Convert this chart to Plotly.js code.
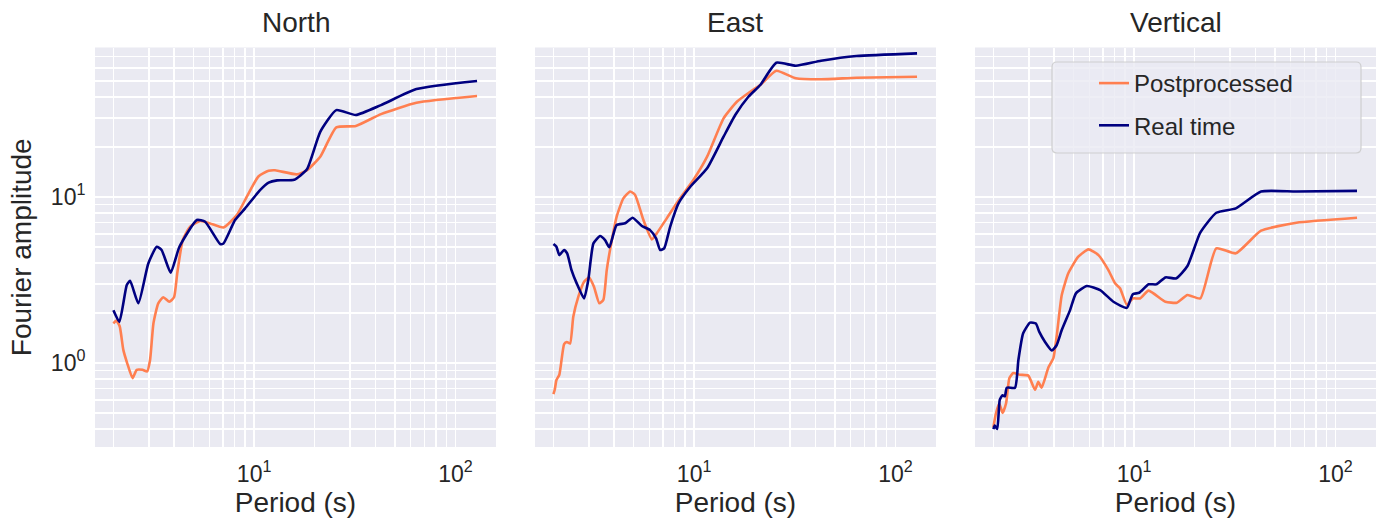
<!DOCTYPE html>
<html>
<head>
<meta charset="utf-8">
<script src="https://cdn.plot.ly/plotly-3.0.1.min.js"></script>
<style>html,body{margin:0;padding:0;background:#fff;}#chart{width:1383px;height:524px;}</style>
</head>
<body>
<div id="chart"></div>
<script>
// ---- data ----
const panelTitles = ["North", "East", "Vertical"];
const seriesNames = ["Postprocessed", "Real time"];

const northPostX = [2.0, 2.07, 2.15, 2.24, 2.34, 2.49, 2.61, 2.79, 2.94, 3.04, 3.16, 3.34, 3.54, 3.79, 4.0, 4.15, 4.42, 4.81, 5.39, 6.04, 7.04, 8.2, 9.2, 10.5, 11.8, 12.7, 16.3, 18.3, 21.3, 25.6, 32, 42.7, 64, 128];
const northPostY = [1.73, 1.80, 1.66, 1.20, 1.0, 0.81, 0.91, 0.91, 0.89, 1.04, 1.73, 2.29, 2.49, 2.34, 2.49, 3.47, 5.51, 6.62, 7.17, 6.94, 6.56, 7.79, 10.05, 13.3, 14.4, 14.5, 13.7, 14.5, 17.5, 26.3, 26.8, 31.6, 37.0, 40.6];
const northRealX = [2.0, 2.14, 2.33, 2.42, 2.66, 2.98, 3.28, 3.47, 3.85, 4.25, 5.19, 5.71, 6.78, 7.04, 8.04, 9.02, 10.7, 11.8, 13.0, 15.8, 18.3, 21.3, 25.6, 32.0, 42.7, 64.0, 128];
const northRealY = [2.08, 1.77, 2.95, 3.13, 2.29, 3.98, 5.02, 4.8, 3.5, 5.0, 7.27, 7.1, 5.21, 5.25, 7.27, 8.55, 11.0, 12.2, 12.6, 12.7, 14.7, 24.7, 33.4, 31.2, 35.8, 44.7, 50];

const eastPostX = [2.0, 2.03, 2.07, 2.14, 2.26, 2.33, 2.42, 2.51, 2.66, 2.84, 3.01, 3.18, 3.38, 3.54, 3.68, 3.90, 4.12, 4.45, 4.81, 5.09, 5.6, 6.17, 6.52, 7.31, 8.51, 9.93, 11.6, 14.0, 16.3, 19.0, 21.3, 25.6, 32, 42.7, 64, 128];
const eastPostY = [0.65, 0.69, 0.79, 0.85, 1.30, 1.34, 1.31, 1.90, 2.51, 3.09, 3.28, 2.88, 2.29, 2.4, 3.63, 5.5, 7.6, 9.82, 10.8, 10.3, 7.27, 5.56, 6.04, 7.44, 9.82, 12.7, 17.5, 29.8, 37.5, 43.1, 47.3, 57.7, 51.9, 51.2, 52.3, 53.1];
const eastRealX = [2.0, 2.07, 2.14, 2.26, 2.34, 2.46, 2.61, 2.84, 2.98, 3.16, 3.41, 3.61, 3.79, 4.12, 4.54, 4.95, 5.5, 6.04, 6.47, 6.78, 7.1, 7.6, 8.36, 9.55, 11.6, 14.0, 16.0, 18.6, 21.3, 25.6, 32, 42.7, 64, 128];
const eastRealY = [5.21, 5.02, 4.47, 4.8, 4.58, 3.63, 3.02, 2.45, 3.16, 5.26, 5.82, 5.5, 4.98, 6.78, 6.95, 7.5, 6.69, 6.32, 5.64, 4.8, 4.91, 6.62, 9.16, 11.5, 14.9, 23.1, 31.2, 40.2, 47.3, 64.4, 61.8, 66.2, 70.7, 73.4];

const vertPostX = [2.0, 2.06, 2.14, 2.22, 2.31, 2.40, 2.51, 2.71, 2.98, 3.22, 3.34, 3.47, 3.75, 3.97, 4.12, 4.37, 4.71, 5.28, 5.93, 6.65, 7.45, 8.04, 8.51, 9.2, 9.85, 10.7, 11.8, 14.3, 16.3, 18.4, 21.3, 25.6, 32, 42.7, 64, 128];
const vertPostY = [0.41, 0.50, 0.57, 0.50, 0.57, 0.81, 0.87, 0.85, 0.84, 0.69, 0.77, 0.71, 0.94, 1.07, 1.44, 2.57, 3.47, 4.37, 4.84, 4.47, 3.63, 3.02, 2.82, 2.24, 2.45, 2.45, 2.73, 2.34, 2.31, 2.57, 2.45, 4.91, 4.58, 6.27, 7.0, 7.5];
const vertRealX = [2.0, 2.03, 2.09, 2.15, 2.22, 2.28, 2.33, 2.56, 2.66, 2.81, 3.04, 3.25, 3.38, 3.61, 3.9, 4.12, 4.37, 4.81, 5.14, 5.82, 6.78, 7.89, 9.2, 9.85, 10.6, 11.8, 12.9, 14.3, 16.2, 18.4, 21.3, 25.6, 32, 42.7, 64, 128];
const vertRealY = [0.40, 0.42, 0.40, 0.60, 0.64, 0.63, 0.71, 0.71, 1.04, 1.51, 1.75, 1.73, 1.54, 1.34, 1.19, 1.28, 1.58, 2.09, 2.63, 2.91, 2.75, 2.34, 2.15, 2.6, 2.65, 2.98, 2.98, 3.28, 3.24, 3.84, 6.1, 8.04, 8.55, 10.8, 10.8, 10.9];

// tick labels and grid positions
const xMajorVals = [10, 100];
const xMajorText = ["10<sup>1</sup>", "10<sup>2</sup>"];
const xMinorVals = [2, 3, 4, 5, 6, 7, 8, 9, 20, 30, 40, 50, 60, 70, 80, 90];
const yMajorVals = [1, 10];
const yMajorText = ["10<sup>0</sup>", "10<sup>1</sup>"];
const yMinorVals = [0.3, 0.4, 0.5, 0.6, 0.7, 0.8, 0.9, 2, 3, 4, 5, 6, 7, 8, 9, 20, 30, 40, 50, 60, 70, 80];

const xTitle = "Period (s)";
const yTitle = "Fourier amplitude";

// ---- styling ----
const W = 1383, H = 524;
const FONT = '"Liberation Sans", Arial, "DejaVu Sans", sans-serif';
const TXT = '#262626';
const cPost = '#FF7F50', cReal = '#000080';
const panelsPx = [[95, 496], [535, 936], [975, 1376]];
const plotTop = 47.5, plotBot = 447;

const panels = [
  [northPostX, northPostY, northRealX, northRealY],
  [eastPostX, eastPostY, eastRealX, eastRealY],
  [vertPostX, vertPostY, vertRealX, vertRealY]
];

const traces = [];
panels.forEach((p, i) => {
  const xa = i === 0 ? 'x' : 'x' + (i + 1);
  const ya = i === 0 ? 'y' : 'y' + (i + 1);
  traces.push({x: p[0], y: p[1], xaxis: xa, yaxis: ya, type: 'scatter', mode: 'lines',
    name: seriesNames[0], line: {color: cPost, width: 2.6, shape: 'spline', smoothing: 0.5}, showlegend: i === 2, legendgroup: 'a'});
  traces.push({x: p[2], y: p[3], xaxis: xa, yaxis: ya, type: 'scatter', mode: 'lines',
    name: seriesNames[1], line: {color: cReal, width: 2.6, shape: 'spline', smoothing: 0.5}, showlegend: i === 2, legendgroup: 'b'});
});

// legend frame (rounded box, like matplotlib's)
const bx0 = 1052, bx1 = 1361, by0 = 62, by1 = 153, rr = 5;
const framePath = `M${bx0 + rr},${by0} L${bx1 - rr},${by0} Q${bx1},${by0} ${bx1},${by0 + rr} L${bx1},${by1 - rr} Q${bx1},${by1} ${bx1 - rr},${by1} L${bx0 + rr},${by1} Q${bx0},${by1} ${bx0},${by1 - rr} L${bx0},${by0 + rr} Q${bx0},${by0} ${bx0 + rr},${by0} Z`;

const layout = {
  width: W, height: H,
  margin: {l: 0, r: 0, t: 0, b: 0},
  paper_bgcolor: '#ffffff',
  plot_bgcolor: '#EAEAF2',
  font: {family: FONT, color: TXT, size: 20},
  showlegend: true,
  legend: {
    x: 1094 / W, y: 1 - 61 / H, xanchor: 'left', yanchor: 'top',
    bgcolor: 'rgba(0,0,0,0)', borderwidth: 0,
    font: {family: FONT, size: 24, color: TXT},
    tracegroupgap: 8, traceorder: 'grouped'
  },
  shapes: [{
    type: 'path', xref: 'paper', yref: 'paper', layer: 'above',
    path: framePath.replace(/(-?\d+(?:\.\d+)?),(-?\d+(?:\.\d+)?)/g, (m, a, b) => `${(+a / W).toFixed(5)},${(1 - +b / H).toFixed(5)}`),
    fillcolor: 'rgba(234,234,242,0.8)', line: {color: 'rgba(204,204,204,0.9)', width: 1.2}
  }],
  annotations: [],
};

const yRange = [Math.log10(0.312), Math.log10(79.6)];
const xRange = [Math.log10(1.62), Math.log10(159)];

panelsPx.forEach((px, i) => {
  const sfx = i === 0 ? '' : String(i + 1);
  layout['xaxis' + sfx] = {
    type: 'log', domain: [px[0] / W, px[1] / W], range: xRange,
    anchor: 'y' + sfx,
    tickmode: 'array', tickvals: xMajorVals, ticktext: xMajorText,
    minor: {tickmode: 'array', tickvals: xMinorVals, showgrid: true, gridcolor: '#ffffff', gridwidth: 1.4, ticks: ''},
    showgrid: true, gridcolor: '#ffffff', gridwidth: 1.4,
    zeroline: false, showline: false,
    ticks: 'outside', ticklen: 6, tickcolor: 'rgba(0,0,0,0)',
    tickfont: {size: 23, color: TXT, family: FONT},
    title: {text: xTitle, font: {size: 28, color: TXT, family: FONT}, standoff: 3}
  };
  layout['yaxis' + sfx] = {
    type: 'log', domain: [1 - plotBot / H, 1 - plotTop / H], range: yRange,
    anchor: 'x' + sfx,
    tickmode: 'array', tickvals: yMajorVals, ticktext: yMajorText,
    minor: {tickmode: 'array', tickvals: yMinorVals, showgrid: true, gridcolor: '#ffffff', gridwidth: 1.4, ticks: ''},
    showticklabels: i === 0,
    showgrid: true, gridcolor: '#ffffff', gridwidth: 1.4,
    zeroline: false, showline: false,
    ticks: 'outside', ticklen: 4, tickcolor: 'rgba(0,0,0,0)',
    tickfont: {size: 23, color: TXT, family: FONT},
    title: i === 0 ? {text: yTitle, font: {size: 28, color: TXT, family: FONT}, standoff: 11} : {text: ''}
  };
  if (i > 0) layout['yaxis' + sfx].matches = 'y';
  layout.annotations.push({
    text: panelTitles[i], xref: 'paper', yref: 'paper',
    x: (px[0] + px[1]) / 2 / W, y: 1 - 23 / H, xanchor: 'center', yanchor: 'middle',
    showarrow: false, font: {size: 28, color: TXT, family: FONT}
  });
});

Plotly.newPlot('chart', traces, layout, {displayModeBar: false, staticPlot: true});
</script>
</body>
</html>
